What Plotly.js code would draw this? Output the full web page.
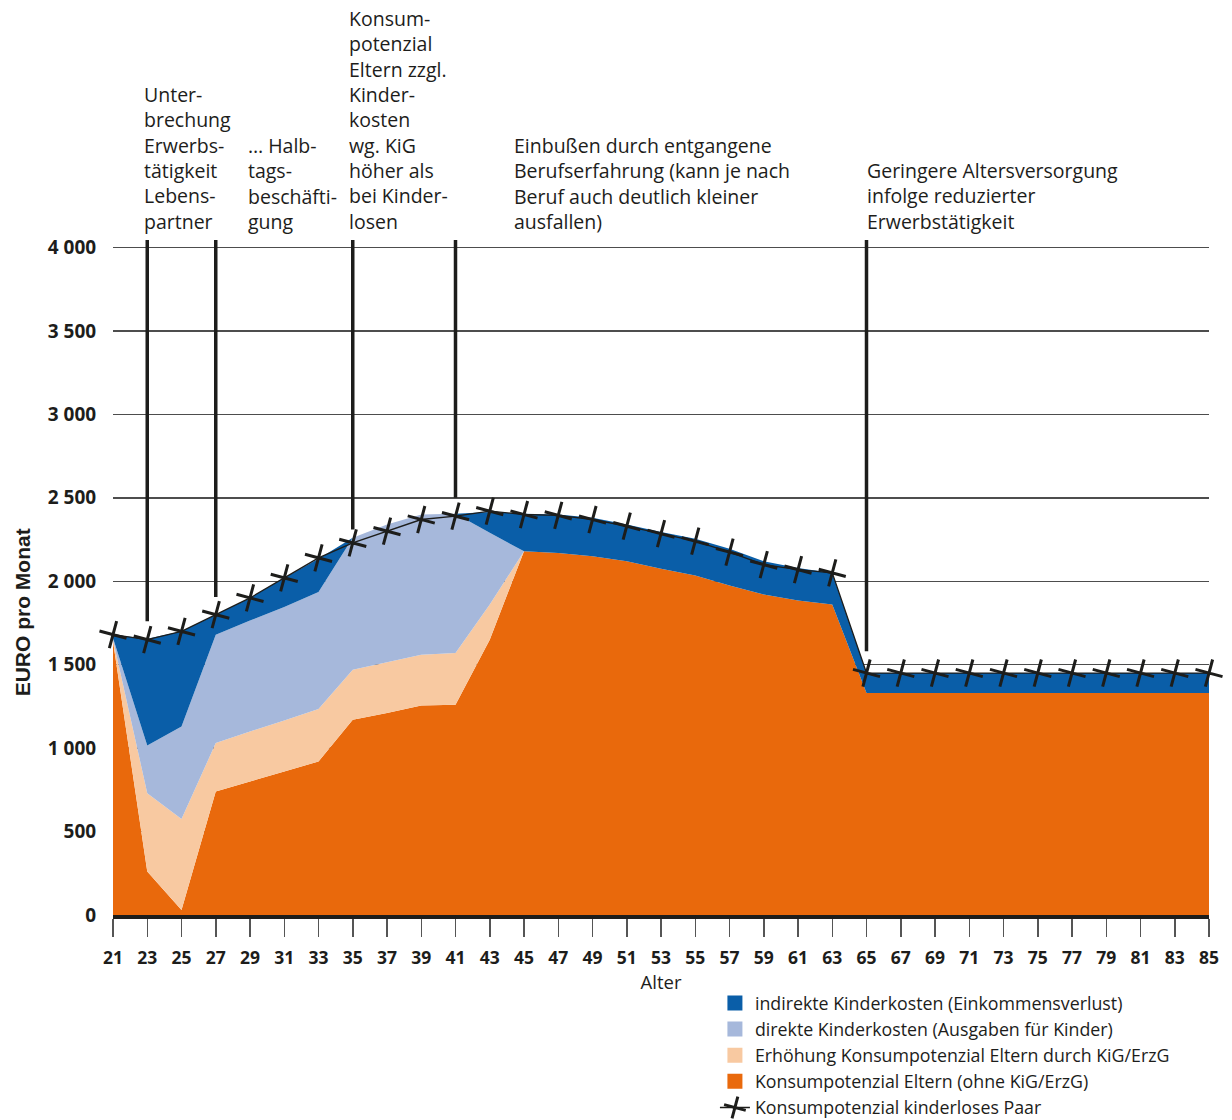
<!DOCTYPE html>
<html>
<head>
<meta charset="utf-8">
<script src="https://cdn.plot.ly/plotly-3.0.1.min.js"></script>
<style>html,body{margin:0;padding:0;background:#fff;}#chart{width:1232px;height:1120px;}</style>
</head>
<body>
<div id="chart"></div>
<script>
// ---- data ----
const ages = [21,23,25,27,29,31,33,35,37,39,41,43,45,47,49,51,53,55,57,59,61,63,65,67,69,71,73,75,77,79,81,83,85];
// Konsumpotenzial Eltern (ohne KiG/ErzG)
const konsumEltern = [1640,260,30,740,800,860,920,1170,1210,1255,1260,1650,2180,2170,2150,2120,2075,2035,1975,1920,1885,1860,1330,1330,1330,1330,1330,1330,1330,1330,1330,1330,1330];
// Erhöhung Konsumpotenzial Eltern durch KiG/ErzG
const erhoehungKiG = [10,470,545,290,300,305,315,300,305,305,310,210,0,0,0,0,0,0,0,0,0,0,0,0,0,0,0,0,0,0,0,0,0];
// direkte Kinderkosten (Ausgaben für Kinder)
const direkteKosten = [10,285,555,650,665,680,700,790,825,840,835,430,0,0,0,0,0,0,0,0,0,0,0,0,0,0,0,0,0,0,0,0,0];
// indirekte Kinderkosten (Einkommensverlust)
const indirekteKosten = [20,640,570,120,135,175,200,0,0,0,0,125,225,230,230,220,220,220,220,200,195,190,120,120,120,120,120,120,120,120,120,120,120];
// Konsumpotenzial kinderloses Paar
const kinderlos = [1680,1650,1700,1800,1900,2020,2140,2230,2300,2370,2390,2420,2400,2395,2370,2330,2285,2240,2175,2100,2070,2050,1450,1450,1450,1450,1450,1450,1450,1450,1450,1450,1450];

const yTickVals = [0,500,1000,1500,2000,2500,3000,3500,4000];
const yTickText = ['0','500','1 000','1 500','2 000','2 500','3 000','3 500','4 000'];

const seriesNames = [
  'indirekte Kinderkosten (Einkommensverlust)',
  'direkte Kinderkosten (Ausgaben für Kinder)',
  'Erhöhung Konsumpotenzial Eltern durch KiG/ErzG',
  'Konsumpotenzial Eltern (ohne KiG/ErzG)',
  'Konsumpotenzial kinderloses Paar'
];

// annotation markers (vertical lines): age and end value
const noteLineAges = [23,27,35,41,65];
const noteLineEnds = [1760,1905,2310,2500,1580];
const noteTexts = [
  'Unter-<br>brechung<br>Erwerbs-<br>tätigkeit<br>Lebens-<br>partner',
  '… Halb-<br>tags-<br>beschäfti-<br>gung',
  'Konsum-<br>potenzial<br>Eltern zzgl.<br>Kinder-<br>kosten<br>wg. KiG<br>höher als<br>bei Kinder-<br>losen',
  'Einbußen durch entgangene<br>Berufserfahrung (kann je nach<br>Beruf auch deutlich kleiner<br>ausfallen)',
  'Geringere Altersversorgung<br>infolge reduzierter<br>Erwerbstätigkeit'
];

// ---- styles ----
const C_DARK = '#0a5ea8', C_LIGHTBLUE = '#a6b8db', C_PEACH = '#f8c9a1', C_ORANGE = '#e9690c', C_INK = '#1d1d1b';
const FONT = 'Open Sans, Noto Sans, sans-serif';

function area(y, color) {
  return {x: ages, y: y, type: 'scatter', mode: 'none', stackgroup: 'one',
    fillcolor: color, line: {width: 0, shape: 'linear'}, showlegend: false, hoverinfo: 'x+y'};
}
function legendBox(name, color, rank) {
  return {x: [null], y: [null], type: 'scatter', mode: 'markers', name: name,
    marker: {symbol: 'square', size: 15, color: color}, legendrank: rank, showlegend: true};
}

const data = [
  area(konsumEltern, C_ORANGE),
  area(erhoehungKiG, C_PEACH),
  area(direkteKosten, C_LIGHTBLUE),
  area(indirekteKosten, C_DARK),
  {x: ages, y: kinderlos, type: 'scatter', mode: 'lines+markers', name: seriesNames[4],
   line: {color: C_INK, width: 1.3}, cliponaxis: false, legendrank: 5,
   marker: {symbol: 'cross-thin', size: 20, angle: 15, color: C_INK, line: {width: 3, color: C_INK}}},
  legendBox(seriesNames[0], C_DARK, 1),
  legendBox(seriesNames[1], C_LIGHTBLUE, 2),
  legendBox(seriesNames[2], C_PEACH, 3),
  legendBox(seriesNames[3], C_ORANGE, 4)
];

const shapes = noteLineAges.map((a, i) => ({
  type: 'line', xref: 'x', yref: 'y', x0: a, x1: a, y0: noteLineEnds[i], y1: 4045,
  line: {color: C_INK, width: 3.5}, layer: 'above'
}));

const notePaperX = [0.0265, 0.1214, 0.2135, 0.364, 0.686];
const annotations = noteTexts.map((t, i) => ({
  text: t, xref: 'paper', yref: 'paper', x: notePaperX[i], y: 1.005,
  xanchor: 'left', yanchor: 'bottom', align: 'left', showarrow: false,
  font: {family: FONT, size: 19.5, color: C_INK}
}));
annotations.push({
  text: 'EURO pro Monat', xref: 'paper', yref: 'y', x: -0.083, y: 1814,
  xanchor: 'center', yanchor: 'middle', textangle: -90, showarrow: false,
  font: {family: 'Liberation Sans Narrow, Arial Narrow, Liberation Sans, sans-serif', size: 21, color: C_INK, weight: 'bold'}
});

const layout = {
  width: 1232, height: 1120,
  margin: {l: 113, r: 23, t: 240, b: 205, autoexpand: false},
  paper_bgcolor: '#ffffff', plot_bgcolor: '#ffffff',
  font: {family: FONT, color: C_INK},
  showlegend: true,
  legend: {x: 0.5492, y: -0.1035, xanchor: 'left', yanchor: 'top', traceorder: 'normal',
    font: {family: FONT, size: 17.8, color: C_INK}, bgcolor: 'rgba(0,0,0,0)', tracegroupgap: 0},
  xaxis: {
    range: [21, 85], tickvals: ages, ticktext: ages.map(String),
    ticks: 'outside', ticklen: 18, tickwidth: 1.5, tickcolor: '#555555', ticklabelstandoff: 6,
    showline: true, linecolor: C_INK, linewidth: 4, showgrid: false, zeroline: false,
    tickfont: {family: FONT, size: 17.5, color: C_INK, weight: 'bold'},
    title: {text: 'Alter', standoff: 8, font: {family: FONT, size: 18.5, color: C_INK}}
  },
  yaxis: {
    range: [0, 4045], tickvals: yTickVals, ticktext: yTickText,
    ticks: 'outside', ticklen: 12, tickcolor: 'rgba(0,0,0,0)',
    showgrid: true, gridcolor: '#4d4d4d', gridwidth: 1.5, zeroline: false, showline: false,
    tickfont: {family: FONT, size: 19, color: C_INK, weight: 'bold'}
  },
  shapes: shapes,
  annotations: annotations
};

Plotly.newPlot('chart', data, layout, {displayModeBar: false, staticPlot: true});
</script>
</body>
</html>
